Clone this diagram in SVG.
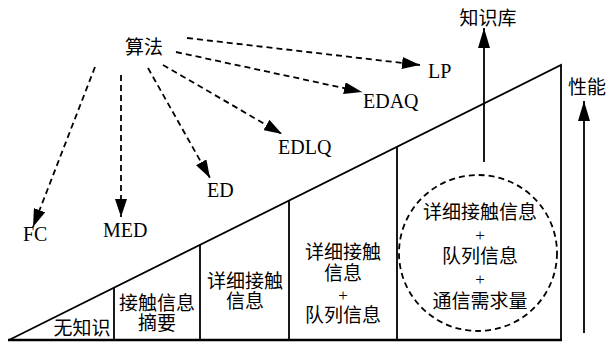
<svg xmlns="http://www.w3.org/2000/svg" width="606" height="346" viewBox="0 0 606 346">
<style>
text{font-family:"Liberation Serif","Times New Roman","Noto Sans CJK SC",serif;font-size:19px;fill:#000}
.lat{font-size:20px}
.c{text-anchor:middle}
.p{font-size:17px}
.ln{stroke:#000;stroke-width:1.8;fill:none}
.dash{stroke:#000;stroke-width:1.8;fill:none;stroke-dasharray:6 4}
</style>
<defs>
<marker id="ah" markerUnits="userSpaceOnUse" markerWidth="18" markerHeight="12" refX="18" refY="6" orient="auto">
<path d="M0,0 L18,6 L0,12 z" fill="#000"/>
</marker>
<marker id="ahs" markerUnits="userSpaceOnUse" markerWidth="20" markerHeight="12" refX="20" refY="6" orient="auto">
<path d="M0,0 L20,6 L0,12 z" fill="#000"/>
</marker>
</defs>
<rect width="606" height="346" fill="#fff"/>
<g id="frame">
<path class="ln" d="M9,340 L561,65 L561,340"/>
<line x1="8" y1="340" x2="562" y2="340" stroke="#000" stroke-width="2.4"/>
<line class="ln" x1="114" y1="288" x2="114" y2="340"/>
<line class="ln" x1="200" y1="245" x2="200" y2="340"/>
<line class="ln" x1="289" y1="200.5" x2="289" y2="340"/>
<line class="ln" x1="397" y1="147" x2="397" y2="340"/>
</g>
<g id="connectors">
<line class="dash" x1="187" y1="38" x2="420" y2="65" marker-end="url(#ah)"/>
<line class="dash" x1="176" y1="52" x2="362" y2="92" marker-end="url(#ah)"/>
<line class="dash" x1="163" y1="65" x2="282" y2="134" marker-end="url(#ah)"/>
<line class="dash" x1="148" y1="68" x2="210" y2="178" marker-end="url(#ah)"/>
<line class="dash" x1="121" y1="75" x2="121" y2="217" marker-end="url(#ah)"/>
<line class="dash" x1="95" y1="67" x2="33" y2="227" marker-end="url(#ah)"/>
<line class="ln" x1="484" y1="162" x2="484" y2="28" marker-end="url(#ahs)"/>
<line class="ln" x1="584" y1="333" x2="584" y2="101" marker-end="url(#ahs)"/>
</g>
<g id="n-algo"><text class="c" x="144" y="54">算法</text></g>
<g id="n-lp"><text class="lat" x="428" y="78">LP</text></g>
<g id="n-edaq"><text class="lat" x="363" y="108">EDAQ</text></g>
<g id="n-edlq"><text class="lat" x="278" y="154">EDLQ</text></g>
<g id="n-ed"><text class="lat" x="207" y="197">ED</text></g>
<g id="n-med"><text class="lat" x="103" y="237">MED</text></g>
<g id="n-fc"><text class="lat" x="23" y="241">FC</text></g>
<g id="n-kb"><text class="c" x="488" y="25">知识库</text></g>
<g id="n-perf"><text x="568" y="94">性能</text></g>
<g id="n-none"><text class="c" x="82" y="335">无知识</text></g>
<g id="n-summary">
<text class="c" x="157" y="310">接触信息</text>
<text class="c" x="157" y="330">摘要</text>
</g>
<g id="n-detail">
<text class="c" x="245" y="288">详细接触</text>
<text class="c" x="245" y="308">信息</text>
</g>
<g id="n-detail-queue">
<text class="c" x="343" y="259">详细接触</text>
<text class="c" x="343" y="280">信息</text>
<text class="c p" x="343" y="301">+</text>
<text class="c" x="343" y="322">队列信息</text>
</g>
<g id="n-full">
<ellipse class="dash" cx="478" cy="253" rx="79" ry="78"/>
<text class="c" x="480" y="219">详细接触信息</text>
<text class="c p" x="480" y="241">+</text>
<text class="c" x="480" y="263">队列信息</text>
<text class="c p" x="480" y="285">+</text>
<text class="c" x="480" y="308">通信需求量</text>
</g>
</svg>
